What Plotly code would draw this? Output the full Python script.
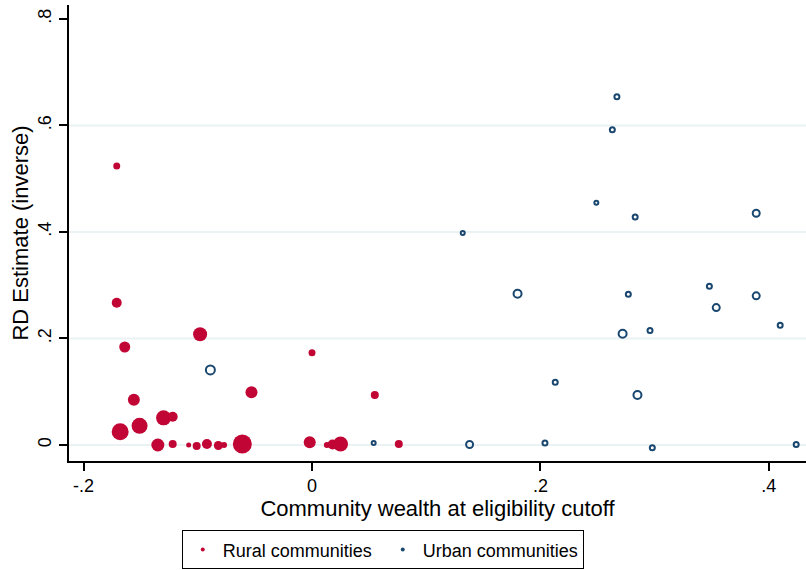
import plotly.graph_objects as go

# Rural communities (filled)
rural_x = [-0.171, -0.171, -0.164, -0.098, -0.053, 0.000, 0.055, -0.156, -0.168, -0.151,
           -0.130, -0.122, -0.135, -0.122, -0.108, -0.101, -0.092, -0.082, -0.077, -0.061,
           -0.002, 0.013, 0.018, 0.025, 0.076]
rural_y = [0.524, 0.267, 0.184, 0.208, 0.099, 0.173, 0.094, 0.085, 0.025, 0.036,
           0.051, 0.053, 0.000, 0.002, 0.000, -0.002, 0.002, -0.001, 0.000, 0.002,
           0.005, 0.000, 0.001, 0.002, 0.002]
rural_w = [7, 10, 11, 14, 12, 7, 8, 12, 17, 16,
           15, 10, 13, 8, 5, 8, 10, 9, 6, 19,
           12, 6, 10, 15, 8]

# Urban communities (hollow)
urban_x = [0.267, 0.263, 0.249, 0.283, 0.389, 0.132, 0.180, 0.277, 0.348, 0.389,
           0.354, 0.410, 0.272, 0.296, 0.213, 0.285, 0.138, 0.204, 0.298, 0.424,
           -0.089, 0.054]
urban_y = [0.654, 0.592, 0.455, 0.428, 0.435, 0.398, 0.284, 0.283, 0.298, 0.280,
           0.258, 0.225, 0.209, 0.215, 0.118, 0.094, 0.001, 0.004, -0.005, 0.001,
           0.141, 0.004]
urban_w = [5, 5, 4, 5, 7, 4, 8, 5, 5, 7,
           7, 5, 8, 5, 5, 8, 7, 5, 5, 5,
           9, 4]

x_ticks = [-0.2, 0, 0.2, 0.4]
x_labels = ["-.2", "0", ".2", ".4"]
y_ticks = [0, 0.2, 0.4, 0.6, 0.8]
y_labels = ["0", ".2", ".4", ".6", ".8"]
grid_y = [0, 0.2, 0.4, 0.6]

RED = "#c10534"
NAVY = "#1a476f"
FONT = "Liberation Sans, Arial, sans-serif"

fig = go.Figure()
fig.add_trace(go.Scatter(x=rural_x, y=rural_y, mode="markers", showlegend=False,
                         marker=dict(color=RED, size=rural_w, opacity=1, line=dict(width=0))))
fig.add_trace(go.Scatter(x=urban_x, y=urban_y, mode="markers", showlegend=False,
                         marker=dict(color=NAVY, size=urban_w, symbol="circle-open", opacity=1,
                                     line=dict(width=2, color=NAVY))))
# legend entries
fig.add_trace(go.Scatter(x=[None], y=[None], mode="markers", name="Rural communities",
                         marker=dict(color=RED, size=4)))
fig.add_trace(go.Scatter(x=[None], y=[None], mode="markers", name="Urban communities",
                         marker=dict(color=NAVY, size=4)))

for g in grid_y:
    fig.add_shape(type="line", xref="paper", x0=0, x1=1, yref="y", y0=g, y1=g,
                  line=dict(color="#eaf2f3", width=2), layer="below")

fig.update_layout(
    width=806, height=570,
    margin=dict(l=69, r=0, t=5, b=109, autoexpand=False),
    paper_bgcolor="white", plot_bgcolor="white",
    font=dict(family=FONT, size=18, color="black"),
    xaxis=dict(range=[-0.2128, 0.4326], tickvals=x_ticks, ticktext=x_labels,
               showgrid=False, zeroline=False, showline=True, linecolor="black",
               linewidth=1.5, ticks="outside", ticklen=8, tickwidth=1.5, tickcolor="black",
               automargin=False,
               title=dict(text="Community wealth at eligibility cutoff", standoff=2)),
    yaxis=dict(range=[-0.030, 0.826], tickvals=y_ticks, ticktext=y_labels,
               showgrid=False, zeroline=False, showline=True, linecolor="black",
               linewidth=1.5, ticks="outside", ticklen=8, tickwidth=1.5, tickcolor="black",
               tickangle=-90, ticklabelstandoff=1, automargin=False,
               title=dict(text="RD Estimate (inverse)", standoff=0)),
    legend=dict(orientation="h", x=0.153, xanchor="left", y=-0.152, yanchor="top",
                bordercolor="black", borderwidth=1, bgcolor="white",
                font=dict(family=FONT, size=18), entrywidth=155),
)

fig.write_html("out.html", config={"displayModeBar": False},
               post_script="document.body.style.margin='0';")
